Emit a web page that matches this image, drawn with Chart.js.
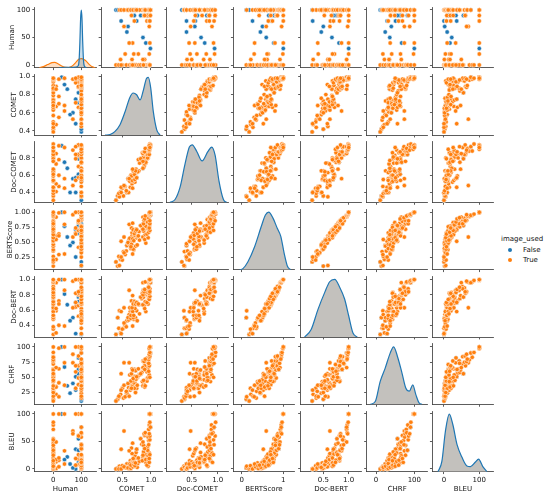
<!DOCTYPE html>
<html>
<head>
<meta charset="utf-8">
<script src="https://cdn.jsdelivr.net/npm/chart.js@4.4.1/dist/chart.umd.min.js"></script>
<style>
  body { margin: 0; background: #fff; width: 550px; height: 499px; overflow: hidden; position: relative; }
  canvas { position: absolute; }
  .lg { position: absolute; font: 7px "DejaVu Sans", sans-serif; line-height: 9px; color: #111; white-space: nowrap; }
  .dot { position: absolute; width: 4.4px; height: 4.4px; border-radius: 50%; }
</style>
</head>
<body>
<div class="lg" style="left:501px;top:234.5px">image_used</div>
<div class="dot" style="left:507.8px;top:247.8px;background:#1f77b4"></div>
<div class="lg" style="left:523px;top:245.5px">False</div>
<div class="dot" style="left:507.8px;top:257.8px;background:#ff7f0e"></div>
<div class="lg" style="left:523px;top:255.5px">True</div>
<script>
const variables = ['Human', 'COMET', 'Doc-COMET', 'BERTScore', 'Doc-BERT', 'CHRF', 'BLEU'];

// image_used = True
const humanTrue = [
  0, 100, 0, 10, 100, 0, 100, 0, 100, 20,
  0, 100, 90, 0, 100, 0, 100, 10, 0, 100,
  40, 0, 100, 80, 0, 100, 0, 100, 90, 0,
  100, 20, 0, 100, 0, 100, 70, 0, 100, 0,
  100, 0, 100, 10, 0, 100, 90, 0, 100, 0,
  100, 40, 0, 100, 0, 100, 0, 100, 80, 0,
  100, 0, 100, 20, 0, 100, 0, 100, 90, 0,
  100, 0, 100, 10, 0, 100, 100, 0, 80, 100,
  0, 100, 0, 90, 100, 100, 70, 0, 100, 0,
  90, 100, 80, 100, 20, 40];
const cometTrue = [
  0.42, 0.45, 0.39, 0.47, 0.52, 0.44, 0.58, 0.50, 0.61, 0.55,
  0.64, 0.48, 0.66, 0.57, 0.62, 0.70, 0.53, 0.67, 0.73, 0.60,
  0.68, 0.75, 0.65, 0.71, 0.66, 0.72, 0.48, 0.69, 0.88, 0.63,
  0.76, 0.70, 0.68, 0.91, 0.74, 0.65, 0.53, 0.79, 0.86, 0.70,
  0.93, 0.67, 0.72, 0.89, 0.66, 0.77, 0.94, 0.71, 0.84, 0.95,
  0.69, 0.62, 0.90, 0.73, 0.96, 0.80, 0.85, 0.75, 0.93, 0.68,
  0.95, 0.87, 0.94, 0.78, 0.97, 0.91, 0.82, 0.96, 0.89, 0.86,
  0.95, 0.87, 0.97, 0.86, 0.94, 0.98, 0.88, 0.96, 0.97, 0.89,
  0.98, 0.96, 0.97, 0.98, 0.90, 0.99, 0.97, 0.98, 0.99, 0.98,
  0.99, 0.97, 0.98, 0.99, 0.97, 0.98];
const docCometTrue = [
  0.36, 0.35, 0.31, 0.41, 0.36, 0.39, 0.40, 0.45, 0.40, 0.47,
  0.46, 0.40, 0.57, 0.42, 0.55, 0.55, 0.47, 0.50, 0.65, 0.56,
  0.45, 0.63, 0.56, 0.54, 0.54, 0.52, 0.46, 0.59, 0.70, 0.53,
  0.65, 0.60, 0.53, 0.74, 0.67, 0.60, 0.48, 0.65, 0.68, 0.64,
  0.79, 0.54, 0.55, 0.73, 0.59, 0.64, 0.83, 0.61, 0.75, 0.80,
  0.65, 0.56, 0.77, 0.65, 0.84, 0.74, 0.86, 0.57, 0.79, 0.67,
  0.86, 0.81, 0.80, 0.78, 0.89, 0.75, 0.79, 0.86, 0.84, 0.76,
  0.84, 0.85, 0.90, 0.85, 0.84, 0.92, 0.87, 0.88, 0.84, 0.87,
  0.92, 0.93, 0.88, 0.95, 0.91, 0.93, 0.89, 0.96, 0.94, 0.92,
  0.95, 0.90, 0.93, 0.95, 0.94, 0.92];
const bertTrue = [
  0.11, 0.12, 0.18, 0.22, 0.35, 0.27, 0.45, 0.21, 0.48, 0.30,
  0.52, 0.26, 0.42, 0.36, 0.55, 0.38, 0.33, 0.61, 0.44, 0.50,
  0.31, 0.58, 0.40, 0.66, 0.47, 0.62, 0.52, 0.39, 0.70, 0.57,
  0.46, 0.64, 0.56, 0.49, 0.72, 0.43, 0.59, 0.68, 0.59, 0.53,
  0.78, 0.66, 0.62, 0.55, 0.74, 0.60, 0.83, 0.65, 0.76, 0.58,
  0.71, 0.80, 0.63, 0.69, 0.86, 0.54, 0.75, 0.71, 0.64, 0.82,
  0.73, 0.69, 0.88, 0.61, 0.79, 0.77, 0.78, 0.67, 0.85, 0.72,
  0.90, 0.81, 0.76, 0.92, 0.84, 0.70, 0.87, 0.93, 0.74, 0.89,
  0.81, 0.91, 0.95, 0.86, 0.94, 0.95, 0.96, 0.97, 1.00, 1.00,
  1.00, 0.99, 1.00, 1.00, 0.99, 1.00];
const docBertTrue = [
  0.50, 0.59, 0.28, 0.30, 0.36, 0.36, 0.46, 0.35, 0.47, 0.40,
  0.58, 0.29, 0.52, 0.38, 0.54, 0.48, 0.43, 0.59, 0.50, 0.50,
  0.39, 0.59, 0.49, 0.64, 0.53, 0.62, 0.58, 0.50, 0.66, 0.63,
  0.46, 0.72, 0.58, 0.58, 0.69, 0.53, 0.63, 0.67, 0.67, 0.53,
  0.83, 0.63, 0.69, 0.62, 0.72, 0.68, 0.80, 0.71, 0.75, 0.68,
  0.68, 0.86, 0.71, 0.68, 0.91, 0.55, 0.82, 0.70, 0.70, 0.79,
  0.79, 0.77, 0.86, 0.68, 0.76, 0.81, 0.77, 0.75, 0.82, 0.80,
  0.89, 0.86, 0.74, 0.96, 0.83, 0.78, 0.84, 0.96, 0.82, 0.87,
  0.88, 0.90, 0.97, 0.84, 0.97, 0.96, 0.98, 0.99, 1.00, 1.00,
  1.00, 0.99, 1.00, 1.00, 1.00, 1.00];
const chrfTrue = [
  14, 18, 11, 22, 16, 19, 24, 32, 33, 18,
  29, 29, 38, 27, 19, 43, 37, 35, 25, 40,
  37, 32, 32, 32, 32, 41, 56, 41, 38, 54,
  37, 41, 44, 46, 47, 44, 74, 54, 36, 52,
  44, 64, 51, 34, 56, 51, 49, 63, 58, 50,
  48, 74, 36, 61, 72, 54, 43, 51, 59, 62,
  66, 45, 64, 64, 54, 67, 56, 60, 69, 77,
  75, 77, 71, 66, 82, 50, 76, 79, 69, 63,
  84, 73, 83, 85, 80, 90, 88, 91, 100, 100,
  100, 97, 100, 100, 98, 100];
const bleuTrue = [
  2, 5, 0, 1, 3, 0, 9, 6, 1, 4,
  15, 0, 8, 2, 3, 11, 4, 13, 5, 2,
  9, 20, 1, 7, 10, 24, 36, 6, 18, 9,
  3, 16, 4, 12, 30, 7, 69, 14, 22, 8,
  21, 28, 6, 17, 38, 10, 26, 12, 45, 5,
  19, 33, 27, 11, 52, 14, 15, 36, 7, 47,
  24, 31, 40, 20, 29, 17, 55, 16, 61, 25,
  58, 43, 12, 49, 34, 26, 64, 72, 19, 37,
  53, 44, 80, 60, 66, 76, 64, 85, 100, 100,
  100, 100, 100, 100, 100, 100];

// image_used = False (same outputs re-rated, so they sit under the orange points)
const humanFalse = [100, 80, 70, 60, 90, 80, 90, 50, 40, 30, 90, 100, 100, 100, 100, 100, 100, 100, 100, 100];
const cometFalse = [0.39, 0.48, 0.60, 0.58, 0.71, 0.75, 0.82, 0.86, 0.91, 0.99, 0.94, 0.95, 0.42, 0.66, 0.72, 0.87, 0.99, 0.73, 0.68, 0.89];
const docCometFalse = [0.31, 0.40, 0.56, 0.40, 0.61, 0.57, 0.79, 0.68, 0.75, 0.94, 0.84, 0.86, 0.36, 0.54, 0.55, 0.85, 0.93, 0.65, 0.53, 0.87];
const bertFalse = [0.18, 0.26, 0.50, 0.45, 0.65, 0.71, 0.78, 0.59, 0.77, 1.00, 0.84, 0.73, 0.11, 0.47, 0.62, 0.81, 0.95, 0.69, 0.56, 0.89];
const docBertFalse = [0.28, 0.29, 0.50, 0.46, 0.71, 0.70, 0.77, 0.67, 0.81, 1.00, 0.83, 0.79, 0.50, 0.53, 0.69, 0.86, 0.96, 0.68, 0.58, 0.87];
const chrfFalse = [11, 29, 40, 24, 63, 51, 56, 36, 67, 100, 82, 66, 14, 32, 51, 77, 90, 61, 44, 63];
const bleuFalse = [0, 0, 2, 9, 12, 36, 55, 22, 17, 100, 34, 24, 2, 10, 6, 43, 76, 11, 4, 37];

// density curves on the diagonal (relative heights)
const kdeHumanTrueX = [-50, -35, -20, -5, 5, 15, 30, 45, 55, 65, 80, 92, 102, 115, 130, 140, 150];
const kdeHumanTrueY = [0, 0.02, 0.055, 0.088, 0.092, 0.075, 0.03, 0.006, 0.004, 0.02, 0.09, 0.15, 0.16, 0.125, 0.05, 0.015, 0];
const kdeHumanFalseX = [20, 40, 60, 80, 88, 92, 95, 97.5, 100, 102.5, 105, 108, 112, 120];
const kdeHumanFalseY = [0, 0.006, 0.008, 0.012, 0.03, 0.12, 0.45, 0.85, 1.0, 0.85, 0.45, 0.12, 0.02, 0];
const kdeCometX = [0.2, 0.286, 0.37, 0.46, 0.55, 0.63, 0.69, 0.75, 0.81, 0.87, 0.925, 0.953, 0.995, 1.04, 1.1, 1.157];
const kdeCometY = [0, 0.01, 0.06, 0.18, 0.41, 0.65, 0.73, 0.70, 0.61, 0.79, 0.99, 1.0, 0.82, 0.41, 0.09, 0];
const kdeDocCometX = [0.08, 0.18, 0.275, 0.37, 0.455, 0.51, 0.6, 0.70, 0.81, 0.885, 0.95, 1.025, 1.11, 1.17];
const kdeDocCometY = [0, 0.05, 0.26, 0.66, 0.96, 1.0, 0.88, 0.72, 0.88, 0.96, 0.82, 0.37, 0.05, 0];
const kdeBertX = [-0.05, 0.03, 0.15, 0.31, 0.47, 0.57, 0.65, 0.75, 0.855, 0.94, 1.02, 1.1, 1.18];
const kdeBertY = [0, 0.02, 0.14, 0.40, 0.75, 0.95, 1.0, 0.90, 0.72, 0.58, 0.29, 0.06, 0];
const kdeDocBertX = [0.13, 0.26, 0.395, 0.53, 0.625, 0.725, 0.82, 0.92, 1.0, 1.085, 1.17];
const kdeDocBertY = [0, 0.13, 0.48, 0.78, 0.96, 1.0, 0.87, 0.66, 0.37, 0.07, 0];
const kdeChrfX = [-15, -2, 11, 24, 37, 46, 57, 68, 78, 87, 96, 104, 113, 120];
const kdeChrfY = [0, 0.05, 0.40, 0.63, 0.89, 1.0, 0.81, 0.54, 0.28, 0.23, 0.34, 0.17, 0.02, 0];
const kdeBleuX = [-17, -6, 4, 15, 25, 37, 51, 65, 75, 89, 98, 110, 122];
const kdeBleuY = [0, 0.18, 0.70, 1.0, 0.82, 0.47, 0.25, 0.10, 0.09, 0.17, 0.22, 0.09, 0];

// axis limits and ticks, one entry per variable
const xLimits = [[-66.4, 152.5], [0.129, 1.197], [0.021, 1.2], [-0.202, 1.272], [0.05, 1.259], [-24.8, 135.2], [-33.1, 140.5]];
const yLimits = [[-5, 105], [0.355, 1.02], [0.285, 0.985], [0.05, 1.05], [0.245, 1.04], [5.5, 105], [-5, 105]];
const xTickValues = [[0, 100], [0.5, 1.0], [0.5, 1.0], [0, 1], [0.5, 1.0], [0, 100], [0, 100]];
const xTickLabels = [['0', '100'], ['0.5', '1.0'], ['0.5', '1.0'], ['0', '1'], ['0.5', '1.0'], ['0', '100'], ['0', '100']];
const yTickValues = [[0, 50, 100], [0.4, 0.6, 0.8, 1.0], [0.4, 0.6, 0.8], [0.25, 0.5, 0.75, 1.0], [0.4, 0.6, 0.8, 1.0], [25, 50, 75, 100], [0, 50, 100]];
const yTickLabels = [['0', '50', '100'], ['0.4', '0.6', '0.8', '1.0'], ['0.4', '0.6', '0.8'], ['0.25', '0.50', '0.75', '1.00'], ['0.4', '0.6', '0.8', '1.0'], ['25', '50', '75', '100'], ['0', '50', '100']];

const seriesTrue = [humanTrue, cometTrue, docCometTrue, bertTrue, docBertTrue, chrfTrue, bleuTrue];
const seriesFalse = [humanFalse, cometFalse, docCometFalse, bertFalse, docBertFalse, chrfFalse, bleuFalse];
const kdeX = [null, kdeCometX, kdeDocCometX, kdeBertX, kdeDocBertX, kdeChrfX, kdeBleuX];
const kdeY = [null, kdeCometY, kdeDocCometY, kdeBertY, kdeDocBertY, kdeChrfY, kdeBleuY];

const BLUE = '#1f77b4';
const ORANGE = '#ff7f0e';
const FONT_SIZE = 7;

// grid geometry (pixels)
const AX_LEFT = [34.7, 101, 166.8, 233.3, 300.5, 366.5, 432.3];
const AX_W = 61.3;
const AX_TOP = 7.25, ROW_STEP = 67.33, AX_H = 60.5;
const MARGIN = 8;
const TICK_LEN = 2.35, TICK_PAD = 2.2;

Chart.defaults.font.family = '"DejaVu Sans", sans-serif';
Chart.defaults.font.size = FONT_SIZE;
Chart.defaults.color = '#111';
Chart.defaults.animation = false;

const measure = document.createElement('canvas').getContext('2d');
measure.font = FONT_SIZE + 'px "DejaVu Sans"';

function points(xs, ys) {
  return xs.map((x, i) => ({ x: x, y: ys[i] }));
}

function kdeDataset(xs, ys, line, fill) {
  return {
    type: 'line', data: points(xs, ys), yAxisID: 'yk',
    borderColor: line, backgroundColor: fill, borderWidth: 1.2,
    fill: 'origin', pointRadius: 0, cubicInterpolationMode: 'monotone'
  };
}

function makePanel(r, c) {
  const left = AX_LEFT[c], right = left + AX_W;
  const top = AX_TOP + r * ROW_STEP, bottom = top + AX_H;
  const L = c === 0 ? 0 : Math.floor(left - MARGIN);
  const T = Math.floor(top - MARGIN);
  const R = Math.ceil(right + MARGIN);
  const B = r === 6 ? 499 : Math.ceil(bottom + MARGIN);

  const canvas = document.createElement('canvas');
  canvas.width = R - L;
  canvas.height = B - T;
  canvas.style.left = L + 'px';
  canvas.style.top = T + 'px';
  canvas.style.width = (R - L) + 'px';
  canvas.style.height = (B - T) + 'px';
  document.body.appendChild(canvas);

  let datasets, kdeMax = 1;
  if (r === c) {
    if (r === 0) {
      datasets = [
        kdeDataset(kdeHumanFalseX, kdeHumanFalseY, BLUE, 'rgba(31,119,180,0.25)'),
        kdeDataset(kdeHumanTrueX, kdeHumanTrueY, ORANGE, 'rgba(255,127,14,0.25)')
      ];
      kdeMax = Math.max(...kdeHumanFalseY, ...kdeHumanTrueY);
    } else {
      datasets = [kdeDataset(kdeX[r], kdeY[r], BLUE, '#c3c1bd')];
      kdeMax = Math.max(...kdeY[r]);
    }
  } else {
    const dot = { borderColor: '#fff', borderWidth: 0.5, pointRadius: 2.2, clip: false };
    datasets = [
      Object.assign({ data: points(seriesTrue[c], seriesTrue[r]), backgroundColor: ORANGE, order: 0 }, dot),
      Object.assign({ data: points(seriesFalse[c], seriesFalse[r]), backgroundColor: BLUE, order: 1 }, dot)
    ];
  }

  const grid = { drawOnChartArea: false, drawTicks: true, tickLength: TICK_LEN, color: '#333', lineWidth: 0.8 };
  const border = { display: true, color: '#333', width: 0.8 };

  // y label sits left of the widest tick label, like matplotlib
  const lineH = FONT_SIZE * 1.2;
  const widest = Math.max(...yTickLabels[r].map(t => measure.measureText(t).width));
  const yTitleCenter = AX_LEFT[0] - TICK_LEN - TICK_PAD - widest - 4.8;

  new Chart(canvas, {
    type: 'scatter',
    data: { datasets: datasets },
    options: {
      responsive: false,
      events: [],
      layout: { padding: { left: 0, top: top - T, right: R - right, bottom: 0 } },
      plugins: { legend: { display: false }, tooltip: { enabled: false } },
      scales: {
        x: {
          type: 'linear', position: 'bottom', bounds: 'data',
          min: xLimits[c][0], max: xLimits[c][1],
          grid: grid, border: border,
          ticks: { display: r === 6, padding: TICK_PAD, maxRotation: 0, autoSkip: false,
                   callback: (v, i) => xTickLabels[c][i] },
          afterBuildTicks: s => { s.ticks = xTickValues[c].map(v => ({ value: v })); },
          afterFit: s => { s.height = B - bottom; },
          title: { display: r === 6, text: variables[c], padding: { top: 0, bottom: 10 - lineH / 2 } }
        },
        y: {
          type: 'linear', position: 'left', bounds: 'data',
          min: yLimits[r][0], max: yLimits[r][1],
          grid: grid, border: border,
          ticks: { display: c === 0, padding: TICK_PAD, autoSkip: false,
                   callback: (v, i) => yTickLabels[r][i] },
          afterBuildTicks: s => { s.ticks = yTickValues[r].map(v => ({ value: v })); },
          afterFit: s => { s.width = left - L; },
          title: { display: c === 0, text: variables[r], padding: { top: yTitleCenter - lineH / 2, bottom: 0 } }
        },
        yk: { type: 'linear', axis: 'y', position: 'right', display: false, min: 0, max: kdeMax * 1.05 }
      }
    }
  });
}

for (let r = 0; r < 7; r++) {
  for (let c = 0; c < 7; c++) {
    makePanel(r, c);
  }
}
</script>
</body>
</html>
